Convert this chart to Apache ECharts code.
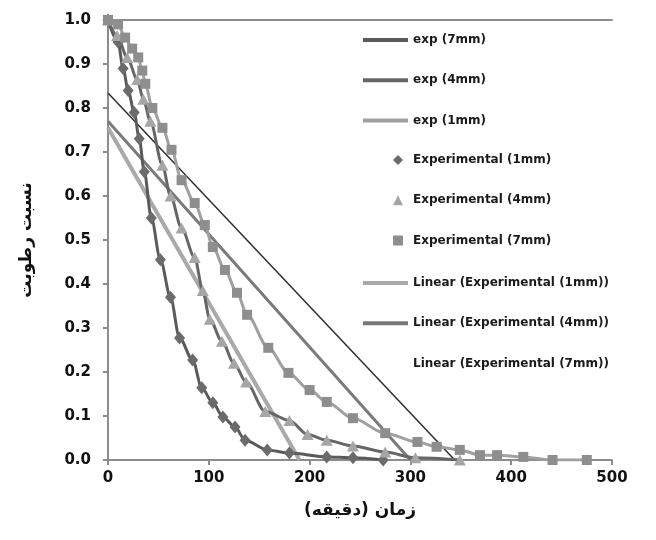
<!DOCTYPE html>
<html><head><meta charset="utf-8">
<script src="https://cdn.jsdelivr.net/npm/echarts@6/dist/echarts.min.js"></script>
<style>html,body{margin:0;padding:0;background:#fff}#c{width:656px;height:540px}</style>
</head><body><div id="c"></div>
<script>
// ---- data (time in minutes, moisture ratio) ----
const timeA = [0,10,15,20,26,31,36,43,52,62,71,84,93,104,114,126,136,158,180,217,243,273];
const mrA   = [1.0,0.95,0.89,0.84,0.79,0.73,0.655,0.55,0.455,0.37,0.277,0.227,0.164,0.13,0.098,0.075,0.045,0.023,0.016,0.007,0.005,0.0];
const timeB = [0,9,19,29,35,42,54,62,73,86,94,101,113,125,137,156,180,198,217,243,275,305,349];
const mrB   = [1.0,0.965,0.915,0.865,0.82,0.77,0.67,0.60,0.527,0.46,0.385,0.32,0.27,0.22,0.177,0.11,0.09,0.058,0.045,0.032,0.018,0.005,0.0];
const timeC = [0,10,17,24,30,34,37,44,54,63,73,86,96,104,116,128,138,159,179,200,217,243,275,307,326,349,369,386,412,441,475];
const mrC   = [1.0,0.99,0.96,0.935,0.915,0.885,0.855,0.80,0.755,0.705,0.636,0.584,0.534,0.484,0.432,0.38,0.33,0.255,0.198,0.159,0.132,0.095,0.061,0.041,0.03,0.023,0.011,0.011,0.007,0.0,0.0];
const linA = [[0,0.755],[190,0]];
const linB = [[0,0.77],[300,0]];
const linC = [[0,0.834],[344,0]];
const xTicks = [0,100,200,300,400,500];
const namesExp = ['exp (7mm)','exp (4mm)','exp (1mm)'];
const namesPts = ['Experimental (1mm)','Experimental (4mm)','Experimental (7mm)'];
const namesLin = ['Linear (Experimental (1mm))','Linear (Experimental (4mm))','Linear (Experimental (7mm))'];

const pairs = (t, v) => t.map((x, i) => [x, v[i]]);
const FONT = 'DejaVu Sans';
const legendText = {fontFamily: FONT, fontWeight: 'bold', fontSize: 12, color: '#1a1a1a', lineHeight: 12};

const chart = echarts.init(document.getElementById('c'), null, {renderer: 'canvas'});
chart.setOption({
  animation: false,
  backgroundColor: '#fff',
  grid: {left: 108, right: 44, top: 20, bottom: 80, containLabel: false},
  xAxis: [{
    type: 'value', min: 0, max: 500, interval: 100,
    name: 'زمان (دقیقه)', nameLocation: 'middle', nameGap: 42,
    nameTextStyle: {fontFamily: FONT, fontWeight: 'bold', fontSize: 17, color: '#111'},
    axisLine: {show: true, lineStyle: {color: '#8c8c8c', width: 2}},
    axisTick: {show: true, length: 5, lineStyle: {color: '#8c8c8c', width: 2}},
    axisLabel: {fontFamily: FONT, fontWeight: 'bold', fontSize: 15, color: '#111', margin: 11,
      formatter: v => xTicks.includes(v) ? String(v) : ''},
    splitLine: {show: false}
  }, {
    type: 'value', position: 'top', min: 0, max: 500,
    axisLine: {show: true, onZero: false, lineStyle: {color: '#8c8c8c', width: 2}},
    axisTick: {show: false}, axisLabel: {show: false}, splitLine: {show: false}
  }],
  yAxis: {
    type: 'value', min: 0, max: 1, interval: 0.1,
    name: 'نسبت رطوبت', nameLocation: 'middle', nameGap: 73, nameRotate: 90,
    nameTextStyle: {fontFamily: FONT, fontWeight: 'bold', fontSize: 17, color: '#111'},
    axisLine: {show: true, lineStyle: {color: '#8c8c8c', width: 2}},
    axisTick: {show: true, length: 5, lineStyle: {color: '#8c8c8c', width: 2}},
    axisLabel: {fontFamily: FONT, fontWeight: 'bold', fontSize: 15, color: '#111', margin: 17,
      formatter: v => v.toFixed(1)},
    splitLine: {show: false}
  },
  legend: [{
    orient: 'vertical', left: 363, top: 34, padding: 0, icon: 'rect', itemWidth: 45, itemHeight: 4, itemGap: 28.25,
    textStyle: legendText, selectedMode: false, data: namesExp
  }, {
    orient: 'vertical', left: 393, top: 154, padding: 0, itemWidth: 10, itemHeight: 10, itemGap: 28.25,
    textStyle: Object.assign({}, legendText, {padding: [0,0,0,5]}), selectedMode: false, data: namesPts
  }, {
    orient: 'vertical', left: 363, top: 277, padding: 0, icon: 'rect', itemWidth: 45, itemHeight: 4, itemGap: 28.25,
    textStyle: legendText, selectedMode: false,
    data: [namesLin[0], namesLin[1], {name: namesLin[2], itemStyle: {opacity: 0}}]
  }],
  series: [
    {name: namesLin[0], type: 'line', data: linA, symbol: 'none', lineStyle: {color: '#a9a9a9', width: 4}, itemStyle: {color: '#a9a9a9'}, z: 1},
    {name: namesLin[1], type: 'line', data: linB, symbol: 'none', lineStyle: {color: '#7a7a7a', width: 3}, itemStyle: {color: '#7a7a7a'}, z: 1},
    {name: namesLin[2], type: 'line', data: linC, symbol: 'none', lineStyle: {color: '#2e2e2e', width: 1.5}, itemStyle: {color: '#2e2e2e'}, z: 1},
    {name: namesExp[0], type: 'line', data: pairs(timeA, mrA), smooth: 0.3, smoothMonotone: 'x', symbol: 'none', lineStyle: {color: '#5a5a5a', width: 3}, itemStyle: {color: '#5a5a5a'}, z: 2},
    {name: namesExp[1], type: 'line', data: pairs(timeB, mrB), smooth: 0.3, smoothMonotone: 'x', symbol: 'none', lineStyle: {color: '#666666', width: 3}, itemStyle: {color: '#666666'}, z: 2},
    {name: namesExp[2], type: 'line', data: pairs(timeC, mrC), smooth: 0.3, smoothMonotone: 'x', symbol: 'none', lineStyle: {color: '#a0a0a0', width: 3}, itemStyle: {color: '#a0a0a0'}, z: 2},
    {name: namesPts[0], type: 'scatter', data: pairs(timeA, mrA), symbol: 'diamond', symbolSize: [11, 13], itemStyle: {color: '#6b6b6b', opacity: 1}, z: 3},
    {name: namesPts[1], type: 'scatter', data: pairs(timeB, mrB), symbol: 'triangle', symbolSize: [12, 11], itemStyle: {color: '#a6a6a6', opacity: 1}, z: 3},
    {name: namesPts[2], type: 'scatter', data: pairs(timeC, mrC), symbol: 'rect', symbolSize: 10, itemStyle: {color: '#8e8e8e', opacity: 1}, z: 3}
  ]
});
</script></body></html>
